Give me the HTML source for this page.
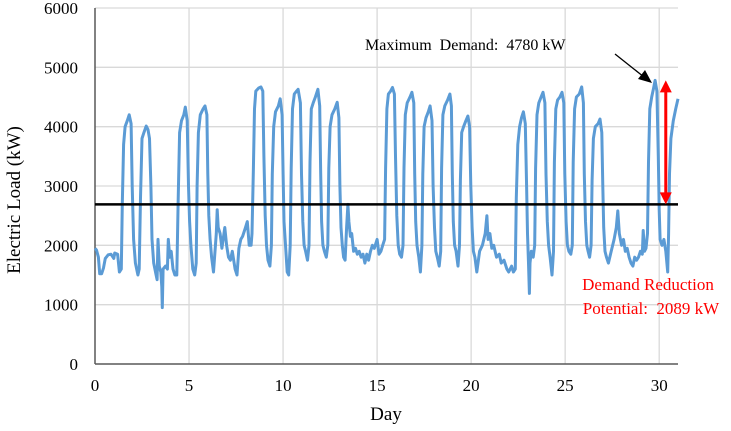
<!DOCTYPE html>
<html><head><meta charset="utf-8">
<style>
html,body{margin:0;padding:0;background:#fff;}
svg{display:block;font-family:"Liberation Serif",serif;}
</style></head>
<body>
<svg id="chart" width="731" height="431" viewBox="0 0 731 431" xmlns="http://www.w3.org/2000/svg">
  <g id="grid"></g>
  <g id="axes"></g>
  <g id="series"></g>
  <text x="20" y="200" transform="rotate(-90 20 200)" text-anchor="middle" font-size="19" fill="#000">Electric Load (kW)</text>
  <text x="386" y="420" text-anchor="middle" font-size="19" fill="#000">Day</text>
  <text x="365" y="50" font-size="16" fill="#000" xml:space="preserve">Maximum  Demand:  4780 kW</text>
  <text x="648" y="290" text-anchor="middle" font-size="17" fill="#ff0000">Demand Reduction</text>
  <text x="651" y="314" text-anchor="middle" font-size="17" fill="#ff0000" xml:space="preserve">Potential:  2089 kW</text>
</svg>
<script>
const xTicks = [0, 5, 10, 15, 20, 25, 30];
const yTicks = [0, 1000, 2000, 3000, 4000, 5000, 6000];
const maxDemand = 4780;
const reductionPotential = 2089;
const targetLine = 2691;
const arrowDay = 30.35;
const loadPoints = [
[0,1950],[0.08,1920],[0.18,1800],[0.25,1520],[0.35,1520],[0.45,1620],[0.55,1780],[0.7,1840],[0.85,1850],[1.0,1780],[1.05,1870],[1.2,1850],[1.3,1550],
[1.4,1600],[1.45,2700],[1.52,3700],[1.6,4000],[1.72,4100],[1.82,4200],[1.92,4050],[1.98,3000],[2.05,2100],[2.15,1700],[2.28,1500],[2.35,1600],
[2.42,2800],[2.5,3800],[2.6,3900],[2.72,4010],[2.82,3950],[2.9,3800],[2.97,3000],[3.03,2100],[3.12,1700],[3.25,1500],[3.3,1420],[3.35,2100],[3.42,1650],[3.5,1550],[3.55,1300],[3.58,950],[3.62,1600],[3.75,1650],[3.85,1600],[3.9,2100],[3.98,1800],[4.05,1900],[4.15,1600],[4.25,1500],[4.35,1500],
[4.42,2700],[4.5,3900],[4.6,4100],[4.72,4200],[4.8,4330],[4.9,4100],[4.97,3000],[5.03,2400],[5.1,2000],[5.2,1600],[5.3,1500],[5.38,1700],
[5.43,3000],[5.5,3900],[5.6,4200],[5.75,4300],[5.85,4350],[5.95,4200],[6.0,3200],[6.05,2500],[6.12,2100],[6.2,1800],[6.3,1550],[6.45,2200],[6.5,2600],[6.55,2300],[6.65,2200],[6.75,1950],[6.9,2300],[7.0,2000],[7.1,1800],[7.2,1750],[7.3,1900],[7.45,1600],[7.55,1500],[7.65,1950],[7.75,2100],[7.85,2150],[8.0,2300],[8.1,2400],[8.2,2000],[8.3,2000],[8.35,2200],
[8.42,3300],[8.48,4300],[8.55,4600],[8.7,4650],[8.82,4670],[8.92,4600],[8.98,3500],[9.05,2500],[9.12,2000],[9.2,1750],[9.3,1650],[9.38,2000],
[9.43,3200],[9.5,4000],[9.6,4250],[9.75,4350],[9.85,4470],[9.95,4200],[10.0,3200],[10.05,2400],[10.15,1900],[10.22,1550],[10.3,1500],[10.38,2000],
[10.43,3300],[10.5,4300],[10.6,4550],[10.72,4600],[10.8,4630],[10.92,4400],[10.98,3200],[11.05,2400],[11.12,2000],[11.2,1900],[11.3,1750],[11.38,2000],
[11.43,3400],[11.5,4300],[11.6,4400],[11.72,4500],[11.85,4630],[11.95,4350],[12.0,3200],[12.05,2400],[12.12,2000],[12.2,1900],[12.3,1800],[12.38,2000],
[12.43,3300],[12.5,4000],[12.6,4200],[12.75,4300],[12.88,4410],[12.97,4150],[13.02,3000],[13.08,2300],[13.15,2000],[13.22,1800],[13.3,1750],[13.38,2300],[13.45,2690],[13.5,2400],[13.58,2150],[13.65,2200],[13.75,1900],[13.85,1950],[13.95,1850],[14.05,1900],[14.15,1800],[14.25,1850],[14.35,1700],[14.45,1850],[14.55,1750],[14.65,1900],[14.75,2000],[14.85,1950],[15.0,2100],[15.1,1850],[15.2,1900],[15.3,2000],
[15.4,2100],[15.45,3300],[15.52,4300],[15.6,4550],[15.72,4600],[15.82,4660],[15.92,4550],[15.98,3500],[16.05,2500],[16.12,2000],[16.2,1850],[16.3,1800],[16.38,2000],
[16.43,3300],[16.5,4200],[16.6,4400],[16.75,4500],[16.85,4580],[16.95,4400],[17.0,3200],[17.05,2400],[17.12,2000],[17.22,1800],[17.3,1550],[17.38,2000],
[17.43,3200],[17.5,4000],[17.6,4150],[17.72,4250],[17.82,4350],[17.92,4100],[17.98,3000],[18.05,2300],[18.12,1900],[18.2,1800],[18.3,1650],[18.38,1900],
[18.43,3300],[18.5,4200],[18.6,4350],[18.75,4450],[18.87,4550],[18.95,4350],[19.0,3200],[19.05,2400],[19.12,2000],[19.2,1900],[19.3,1650],[19.38,2000],
[19.43,3100],[19.5,3900],[19.6,4000],[19.72,4100],[19.83,4180],[19.92,4000],[19.98,3000],[20.05,2300],[20.12,1900],[20.2,1800],[20.3,1550],[20.45,1900],[20.6,2000],[20.75,2200],[20.84,2500],[20.9,2100],[21.0,2200],[21.1,1950],[21.2,2000],[21.35,1800],[21.5,1850],[21.6,1700],[21.75,1750],[21.9,1600],[22.0,1550],[22.15,1650],[22.25,1550],[22.35,1600],
[22.4,2800],[22.48,3700],[22.58,4000],[22.68,4150],[22.78,4250],[22.88,4050],[22.95,3000],[23.0,2200],[23.05,1700],[23.1,1190],[23.13,1700],[23.2,1900],[23.3,1800],[23.38,2000],
[23.43,3300],[23.5,4200],[23.6,4400],[23.72,4500],[23.82,4580],[23.92,4400],[23.98,3200],[24.05,2400],[24.12,2000],[24.2,1800],[24.3,1500],[24.38,1900],
[24.43,3400],[24.5,4300],[24.6,4450],[24.72,4500],[24.83,4580],[24.93,4400],[24.98,3200],[25.05,2400],[25.12,2000],[25.2,1900],[25.3,1850],[25.38,2000],
[25.43,3400],[25.5,4300],[25.6,4500],[25.75,4550],[25.88,4670],[25.97,4400],[26.02,3200],[26.08,2400],[26.15,2000],[26.22,1900],[26.3,1800],[26.38,2000],
[26.43,3100],[26.5,3800],[26.6,4000],[26.75,4050],[26.85,4130],[26.95,3900],[27.0,3000],[27.05,2300],[27.12,1900],[27.2,1800],[27.3,1700],[27.45,1900],[27.6,2100],[27.72,2300],[27.8,2580],[27.88,2200],[28.0,2000],[28.1,2100],[28.2,1900],[28.3,1950],[28.4,1800],[28.5,1700],[28.6,1650],[28.7,1800],[28.8,1750],[28.9,1800],[29.0,1900],[29.1,1850],[29.15,2250],[29.22,1900],[29.3,1950],[29.38,2200],
[29.43,3400],[29.5,4300],[29.6,4500],[29.7,4650],[29.78,4780],[29.88,4600],[29.95,3500],[30.0,2600],[30.05,2100],[30.15,2000],[30.25,2100],[30.35,1900],[30.45,1550],[30.5,2200],[30.55,3200],[30.62,3800],[30.75,4100],[30.88,4300],[31.0,4470]
];

const NS = "http://www.w3.org/2000/svg";
const X0 = 95, X1 = 678, Y0 = 364, Y1 = 8, XMAX = 31, YMAX = 6000;
function xScale(d){ return X0 + d / XMAX * (X1 - X0); }
function yScale(v){ return Y0 - v / YMAX * (Y0 - Y1); }
function mk(tag, attrs, parent){
  const e = document.createElementNS(NS, tag);
  for (const k in attrs) e.setAttribute(k, attrs[k]);
  parent.appendChild(e);
  return e;
}
const grid = document.getElementById('grid');
const axes = document.getElementById('axes');
const series = document.getElementById('series');
const svg = document.getElementById('chart');

yTicks.forEach(v => {
  if (v > 0) {
    const g = mk('line', {x1: X0, x2: X1, y1: yScale(v), y2: yScale(v), stroke: '#d9d9d9', 'stroke-width': 1.3}, grid);
    
    
  }
  const t = mk('text', {x: 78, y: yScale(v) + 6, 'text-anchor': 'end', 'font-size': 17, fill: '#000'}, axes);
  t.textContent = v;
  
  
});
xTicks.forEach(d => {
  if (d > 0) {
    const g = mk('line', {x1: xScale(d), x2: xScale(d), y1: Y1, y2: Y0, stroke: '#d9d9d9', 'stroke-width': 1.3}, grid);
    
    
  }
  const t = mk('text', {x: xScale(d), y: 391, 'text-anchor': 'middle', 'font-size': 17, fill: '#000'}, axes);
  t.textContent = d;
  
  
});
const ya = mk('line', {x1: X0, x2: X0, y1: Y1, y2: Y0, stroke: '#595959', 'stroke-width': 1.5}, axes);


const xa = mk('line', {x1: X0, x2: X1, y1: Y0, y2: Y0, stroke: '#595959', 'stroke-width': 1.5}, axes);



const path = mk('path', {
  d: loadPoints.map((p, i) => (i ? 'L' : 'M') + xScale(p[0]).toFixed(1) + ' ' + yScale(p[1]).toFixed(1)).join(' '),
  fill: 'none', stroke: '#5b9bd5', 'stroke-width': 3, 'stroke-linejoin': 'round'
}, series);



const tl = mk('line', {x1: X0, x2: X1, y1: yScale(targetLine), y2: yScale(targetLine), stroke: '#000', 'stroke-width': 2.5}, svg);



// red double arrow
const ax = xScale(arrowDay), yt = yScale(maxDemand), yb = yScale(maxDemand - reductionPotential);
const rl = mk('line', {x1: ax, x2: ax, y1: yt + 10, y2: yb - 10, stroke: '#ff0000', 'stroke-width': 3}, svg);


const h1 = mk('polygon', {points: `${ax-6},${yt+12} ${ax+6},${yt+12} ${ax},${yt}`, fill: '#ff0000'}, svg);


const h2 = mk('polygon', {points: `${ax-6},${yb-12} ${ax+6},${yb-12} ${ax},${yb}`, fill: '#ff0000'}, svg);



// black pointer arrow
const bl = mk('line', {x1: 615, y1: 54, x2: 644, y2: 77, stroke: '#000', 'stroke-width': 1.3}, svg);


const bh = mk('polygon', {points: '652,83 638,79 645,70', fill: '#000'}, svg);


</script>
</body></html>
